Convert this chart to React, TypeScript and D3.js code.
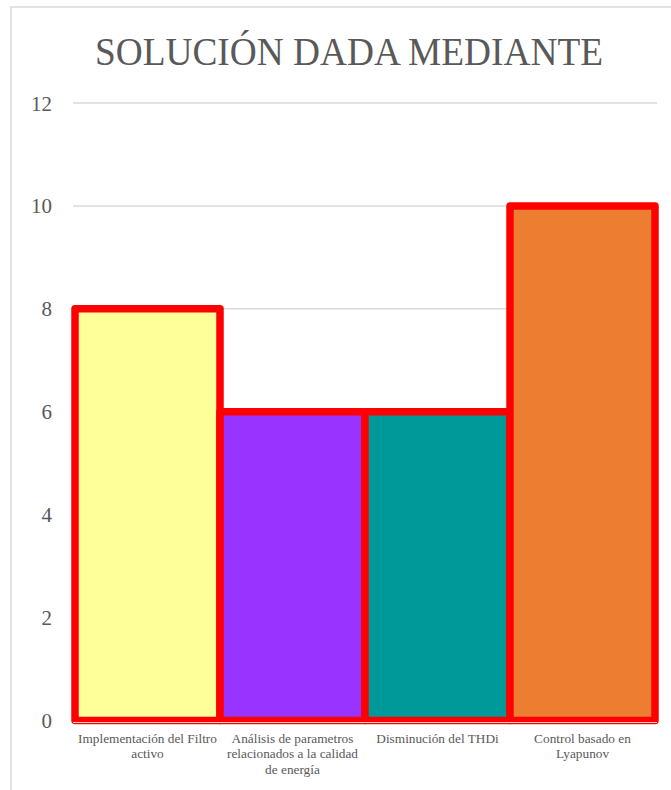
import React from "react";
import * as d3 from "d3";

const title = "SOLUCIÓN DADA MEDIANTE";
const categories = [
  "Implementación del Filtro activo",
  "Análisis de parametros relacionados a la calidad de energía",
  "Disminución del THDi",
  "Control basado en Lyapunov",
];
const categoryLines = [
  ["Implementación del Filtro", "activo"],
  ["Análisis de parametros", "relacionados a la calidad", "de energía"],
  ["Disminución del THDi"],
  ["Control basado en", "Lyapunov"],
];
const values = [8, 6, 6, 10];
const barColors = ["#FFFF99", "#9933FF", "#009999", "#ED7D31"];
const yTicks = [0, 2, 4, 6, 8, 10, 12];

const W = 671;
const H = 790;
const FONT = "'Liberation Serif', 'Times New Roman', serif";
const TEXT = "#595959";
const GRID = "#D9D9D9";

export default function App() {
  const x = d3.scaleBand<string>().domain(categories).range([75, 655]).padding(0);
  const y = d3.scaleLinear().domain([0, 12]).range([720.5, 103]);

  return (
    <div style={{ position: "absolute", left: 0, top: 0 }}>
      <svg width={W} height={H} style={{ display: "block", background: "#fff" }}>
        <rect x={11} y={7} width={W + 20} height={H + 20} fill="#fff" stroke={GRID} strokeWidth={1.5} />
        <text
          x={349}
          y={64.5}
          textAnchor="middle"
          fontFamily={FONT}
          fontSize={39}
          textLength={508}
          lengthAdjust="spacingAndGlyphs"
          fill={TEXT}
        >
          {title}
        </text>
        {yTicks.map((t) => (
          <g key={t}>
            {t !== 0 && (
              <line x1={73} x2={657} y1={y(t)} y2={y(t)} stroke={GRID} strokeWidth={1.5} />
            )}
            <text
              x={52}
              y={y(t) + 7.5}
              textAnchor="end"
              fontFamily={FONT}
              fontSize={21}
              fill={TEXT}
            >
              {t}
            </text>
          </g>
        ))}
        {categories.map((c, i) => (
          <rect
            key={c}
            x={x(c)!}
            y={y(values[i])}
            width={x.bandwidth()}
            height={y(0) - y(values[i])}
            fill={barColors[i]}
            stroke="#FF0000"
            strokeWidth={7.5}
            strokeLinejoin="round"
          />
        ))}
        <line x1={73} x2={657} y1={y(0) + 2} y2={y(0) + 2} stroke={GRID} strokeWidth={1.2} />
        {categories.map((c, i) => (
          <text
            key={c}
            textAnchor="middle"
            fontFamily={FONT}
            fontSize={13.3}
            fill={TEXT}
          >
            {categoryLines[i].map((ln, j) => (
              <tspan key={j} x={x(c)! + x.bandwidth() / 2} y={742.5 + j * 15.5}>
                {ln}
              </tspan>
            ))}
          </text>
        ))}
      </svg>
    </div>
  );
}
